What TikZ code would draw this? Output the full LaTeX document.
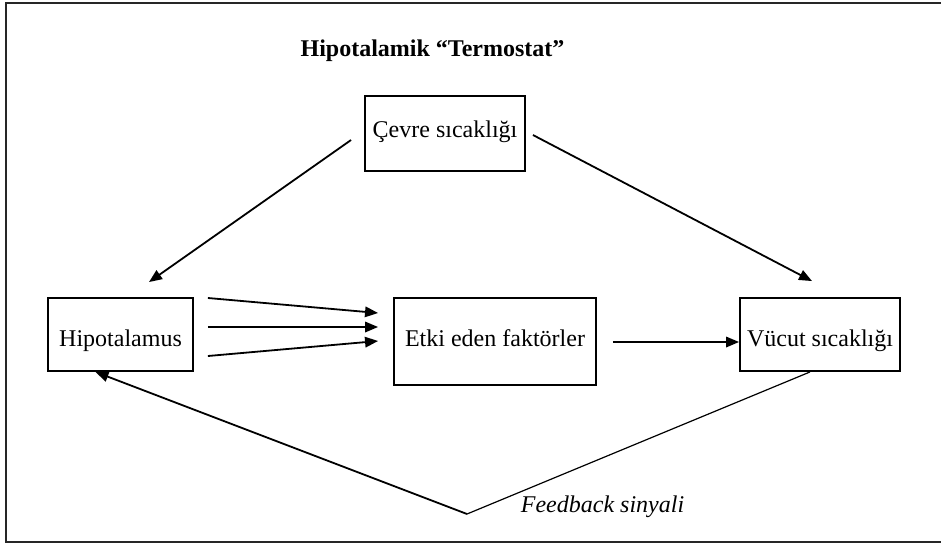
\documentclass[tikz,border=0pt]{standalone}
\usepackage{fontspec}
\setmainfont{Liberation Serif}
\usetikzlibrary{arrows.meta,calc}
\begin{document}
\begin{tikzpicture}[x=1pt,y=-1pt,
  box/.style={draw,line width=1.9pt,inner sep=0pt,font=\fontsize{24}{28}\selectfont},
  conn/.style={line width=1.8pt,-{Triangle[length=13pt,width=10.5pt]}},
  frameline/.style={line width=1.8pt,draw=black!85}]
\useasboundingbox (0,0) rectangle (941,544);
\draw[frameline] (942,3) -- (6,3) -- (6,542) -- (942,542);
\node[anchor=base,font=\fontsize{24}{28}\selectfont\bfseries] (title) at (432.5,56) {Hipotalamik “Termostat”};
\node[box,minimum width=160pt,minimum height=75pt,text height=16pt,text depth=9pt] (cevre) at (445,133.5) {Çevre sıcaklığı};
\node[box,minimum width=145pt,minimum height=73pt,text height=28pt,text depth=5pt] (hipo) at (120.5,334.5) {Hipotalamus};
\node[box,minimum width=202pt,minimum height=87pt,text height=16pt,text depth=7pt] (etki) at (495,341.5) {Etki eden faktörler};
\node[box,minimum width=160pt,minimum height=73pt,text height=28pt,text depth=5pt] (vucut) at (820,334.5) {Vücut sıcaklığı};
\node[anchor=base,font=\fontsize{24}{28}\selectfont\itshape] (fb) at (602.5,512) {Feedback sinyali};
\coordinate (vtx) at (467,514);
\draw[conn] ($(cevre.west)+(-13,6.5)$) -- ($(hipo.north)+(28.5,-15)$);
\draw[conn] ($(cevre.east)+(7,1.5)$) -- ($(vucut.north)+(-8,-16)$);
\draw[conn] ($(hipo.east)+(14,-36.5)$) -- ($(etki.west)+(-15,-28.5)$);
\draw[conn] ($(hipo.east)+(14,-7.5)$) -- ($(etki.west)+(-15,-14.5)$);
\draw[conn] ($(hipo.east)+(14,21.5)$) -- ($(etki.west)+(-15,-0.5)$);
\draw[conn] ($(etki.east)+(16,0.5)$) -- ($(vucut.west)+(0,7.5)$);
\draw[line width=1.2pt] ($(vucut.south)+(-10,0)$) -- (vtx);
\draw[conn] (vtx) -- ($(hipo.south)+(-25,0)$);
\end{tikzpicture}
\end{document}
